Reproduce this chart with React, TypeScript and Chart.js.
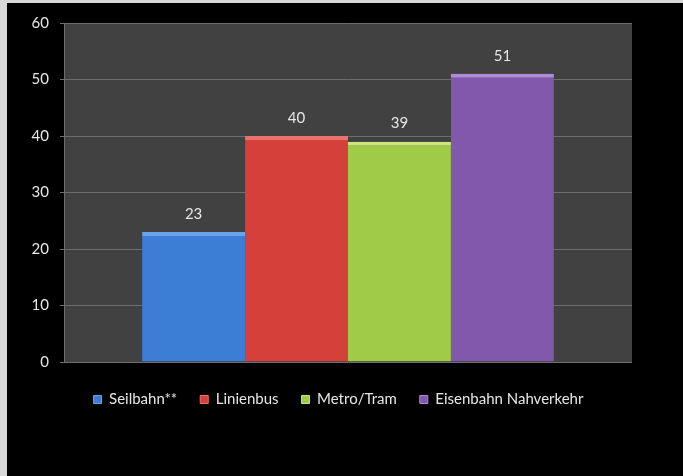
import { useEffect, useRef } from "react";
import { Chart, registerables } from "chart.js";

Chart.register(...registerables);

const categories = [""];
const seriesNames = ["Seilbahn**", "Linienbus", "Metro/Tram", "Eisenbahn Nahverkehr"];
const seriesValues = [23, 40, 39, 51];
const seriesColors = ["#3c7ed6", "#d6403a", "#9fcb47", "#8059ad"];
const seriesHighlights = ["#6ba4ea", "#ea726c", "#c8e67c", "#b18bd9"];
const yMin = 0;
const yMax = 60;
const yStep = 10;

const FONT = "Lato, 'Open Sans', sans-serif";

const bgPlugin = {
  id: "bgPlugin",
  afterLayout(chart: any) {
    if (chart.legend) {
      chart.legend.left = 38;
    }
  },
  beforeDraw(chart: any) {
    const { ctx, chartArea, width, height } = chart;
    ctx.save();
    ctx.fillStyle = "#000000";
    ctx.fillRect(0, 0, width, height);
    ctx.fillStyle = "#414141";
    ctx.fillRect(chartArea.left, chartArea.top, chartArea.right - chartArea.left, chartArea.bottom - chartArea.top);
    ctx.restore();
  },
};

const labelPlugin = {
  id: "labelPlugin",
  afterDatasetsDraw(chart: any) {
    const { ctx } = chart;
    ctx.save();
    ctx.font = `15px ${FONT}`;
    ctx.fillStyle = "#e6e6e6";
    ctx.textAlign = "center";
    ctx.textBaseline = "middle";
    chart.data.datasets.forEach((ds: any, i: number) => {
      const meta = chart.getDatasetMeta(i);
      meta.data.forEach((el: any, j: number) => {
        ctx.fillText(String(ds.data[j]), el.x, el.y - 18);
      });
    });
    ctx.restore();
  },
};

export default function App() {
  const ref = useRef<HTMLCanvasElement | null>(null);

  useEffect(() => {
    if (!ref.current) return;
    const chart = new Chart(ref.current, {
      type: "bar",
      data: {
        labels: categories,
        datasets: seriesNames.map((name, i) => ({
          label: name,
          data: [seriesValues[i]],
          backgroundColor: seriesColors[i],
          borderColor: seriesHighlights[i],
          borderWidth: { top: 4, left: 0, right: 0, bottom: 0 },
          borderSkipped: "bottom",
          categoryPercentage: 0.725,
          barPercentage: 1,
        })),
      },
      options: {
        animation: false,
        responsive: true,
        maintainAspectRatio: false,
        layout: { padding: { left: 0, right: 51, top: 19, bottom: 59 } },
        scales: {
          x: {
            display: true,
            grid: { display: false, drawTicks: true, tickLength: 7 },
            ticks: { display: false },
            border: { display: false },
          },
          y: {
            min: yMin,
            max: yMax,
            afterFit: (s: any) => {
              s.width = 57;
            },
            ticks: {
              stepSize: yStep,
              color: "#e6e6e6",
              font: { family: FONT, size: 15 },
              padding: 11,
            },
            grid: { color: "#6e6e6e", tickLength: 4, lineWidth: 1 },
            border: { display: true, color: "#6e6e6e" },
          },
        },
        plugins: {
          legend: {
            position: "bottom",
            labels: {
              color: "#e6e6e6",
              font: { family: FONT, size: 15 },
              boxWidth: 8,
              boxHeight: 8,
              padding: 23,
            },
          },
          tooltip: { enabled: false },
        },
      },
      plugins: [bgPlugin, labelPlugin],
    });
    return () => chart.destroy();
  }, []);

  return (
    <div style={{ position: "fixed", left: 0, top: 0, width: 683, height: 476, background: "#d8d8d8" }}>
      <div style={{ position: "absolute", left: 7, top: 3, width: 676, height: 473, background: "#000" }}>
        <canvas ref={ref} />
      </div>
    </div>
  );
}
